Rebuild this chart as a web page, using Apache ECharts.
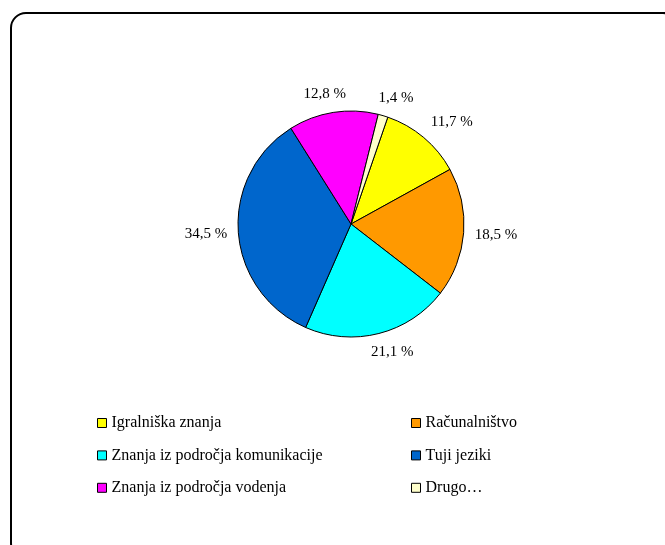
<!DOCTYPE html>
<html>
<head>
<meta charset="utf-8">
<script src="https://cdn.jsdelivr.net/npm/echarts@6/dist/echarts.min.js"></script>
<style>
  html, body { margin: 0; padding: 0; background: #fff; }
  #chart { width: 665px; height: 545px; }
</style>
</head>
<body>
<div id="chart"></div>
<script>
// Categories and their shares (in %)
const categories = [
  'Igralniška znanja',
  'Računalništvo',
  'Znanja iz področja komunikacije',
  'Tuji jeziki',
  'Znanja iz področja vodenja',
  'Drugo…'
];
const shares = [11.7, 18.5, 21.1, 34.5, 12.8, 1.4];
const sliceColors = ['#FFFF00', '#FF9900', '#00FFFF', '#0066CC', '#FF00FF', '#FFFFCC'];

const FONT = '"Liberation Serif", "Times New Roman", serif';

const chart = echarts.init(document.getElementById('chart'), null, { renderer: 'canvas' });

// Put each value label just outside its slice: step out along the radial
// direction, then shift the box so it leans away from the pie.
function placeLabel(p) {
  const pts = p.labelLinePoints;
  if (!pts || pts.length < 2) return {};
  const a = pts[0], b = pts[1];
  let ux = b[0] - a[0], uy = b[1] - a[1];
  const len = Math.hypot(ux, uy) || 1;
  ux /= len; uy /= len;
  const hw = p.labelRect.width / 2, hh = p.labelRect.height / 2;
  const clamp = v => Math.max(-1, Math.min(1, v));
  const gap = 11;
  return {
    x: a[0] + ux * gap + hw * clamp(2 * ux),
    y: a[1] + uy * gap + hh * clamp(2 * uy),
    align: 'center',
    verticalAlign: 'middle'
  };
}

const legendBase = {
  orient: 'vertical',
  top: 415,
  padding: 0,
  icon: 'rect',
  itemWidth: 9,
  itemHeight: 9,
  itemGap: 16.4,
  selectedMode: false,
  itemStyle: { borderColor: '#000', borderWidth: 1 },
  textStyle: { fontFamily: FONT, fontSize: 16, color: '#000', lineHeight: 16 }
};

chart.setOption({
  animation: false,
  backgroundColor: '#fff',
  graphic: [{
    type: 'rect',
    shape: { x: 11, y: 13, width: 667, height: 545, r: 15 },
    style: { fill: 'none', stroke: '#000', lineWidth: 2 },
    silent: true
  }],
  legend: [
    Object.assign({}, legendBase, { left: 97, data: [categories[0], categories[2], categories[4]] }),
    Object.assign({}, legendBase, { left: 411, data: [categories[1], categories[3], categories[5]] })
  ],
  series: [{
    type: 'pie',
    center: [351, 224],
    radius: 113,
    startAngle: 71,
    clockwise: true,
    avoidLabelOverlap: false,
    silent: true,
    emphasis: { disabled: true },
    itemStyle: { borderColor: '#000', borderWidth: 1 },
    label: {
      show: true,
      position: 'outside',
      fontFamily: FONT,
      fontSize: 15,
      color: '#000',
      formatter: p => p.value.toFixed(1).replace('.', ',') + ' %'
    },
    labelLine: { show: true, length: 10, length2: 0, lineStyle: { opacity: 0, width: 0 } },
    labelLayout: placeLabel,
    data: categories.map((name, i) => ({
      name: name,
      value: shares[i],
      itemStyle: { color: sliceColors[i] }
    }))
  }]
});
</script>
</body>
</html>
